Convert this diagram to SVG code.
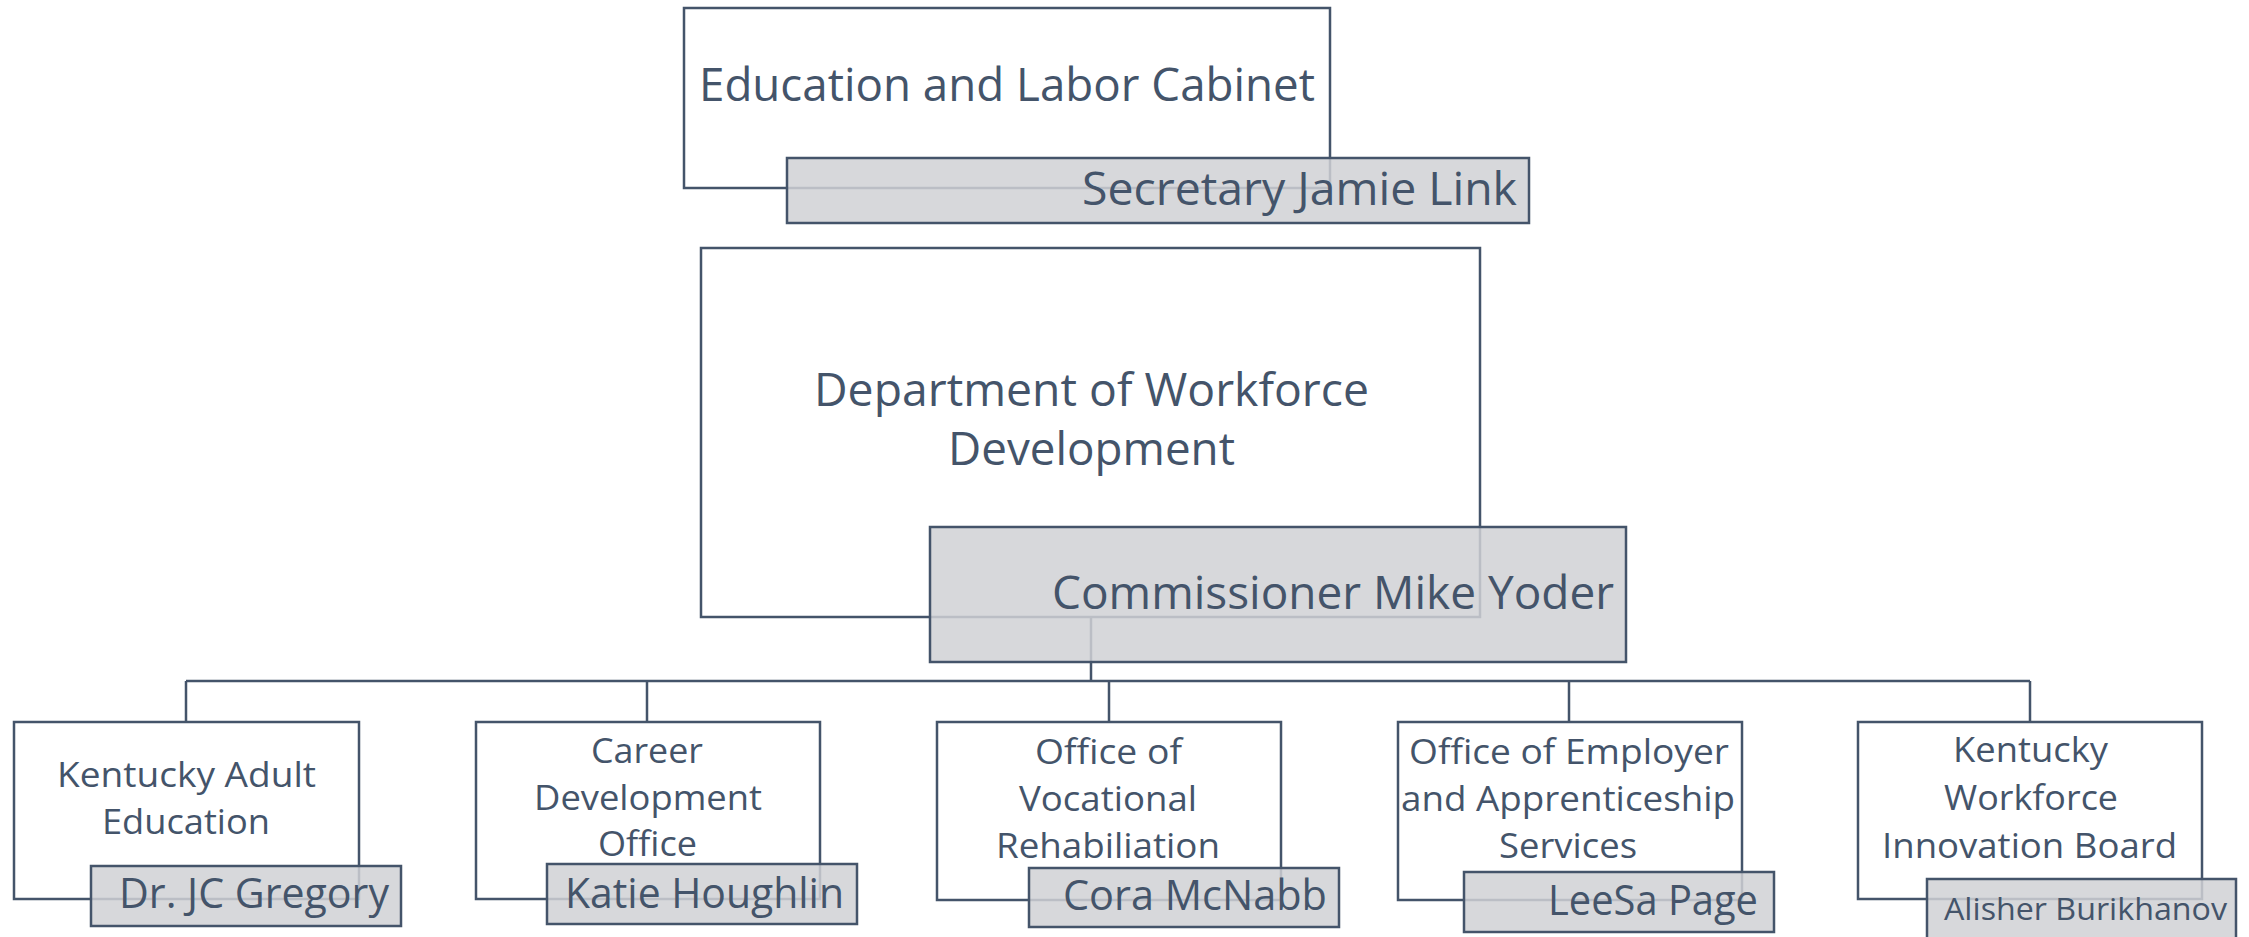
<svg xmlns="http://www.w3.org/2000/svg" width="2249" height="937" viewBox="0 0 2249 937">
<style>
.box{fill:#ffffff;stroke:#44546A;stroke-width:2.5}
.name{fill:#D0D1D5;fill-opacity:0.85;stroke:#44546A;stroke-width:2.5}
.con{fill:none;stroke:#44546A;stroke-width:2.5}
text{font-family:"Open Sans","Liberation Sans",sans-serif;fill:#44546A}
.t1{font-size:45px}
.t2{font-size:42px}
.t3{font-size:34px}
.t4{font-size:31px}
</style>
<rect width="2249" height="937" fill="#ffffff"/>
<g id="connectors">
<path class="con" d="M1091 617 V681 M186 681 H2030 M186 681 V722 M647 681 V722 M1109 681 V722 M1569 681 V722 M2030 681 V722"/>
</g>
<g id="cabinet">
<rect class="box" x="684" y="8" width="646" height="180"/>
<text class="t1" x="699" y="101" textLength="616" lengthAdjust="spacingAndGlyphs">Education and Labor Cabinet</text>
<rect class="name" x="787" y="158" width="742" height="65"/>
<text class="t1" x="1082" y="205" textLength="435" lengthAdjust="spacingAndGlyphs">Secretary Jamie Link</text>
</g>
<g id="department">
<rect class="box" x="701" y="248" width="779" height="369"/>
<text class="t1" x="814" y="406" textLength="555" lengthAdjust="spacingAndGlyphs">Department of Workforce</text>
<text class="t1" x="948" y="465" textLength="287" lengthAdjust="spacingAndGlyphs">Development</text>
<rect class="name" x="930" y="527" width="696" height="135"/>
<text class="t1" x="1052" y="609" textLength="562" lengthAdjust="spacingAndGlyphs">Commissioner Mike Yoder</text>
</g>
<g id="adult-education">
<rect class="box" x="14" y="722" width="345" height="177"/>
<text class="t3" x="57" y="787" textLength="259" lengthAdjust="spacingAndGlyphs">Kentucky Adult</text>
<text class="t3" x="102" y="834" textLength="168" lengthAdjust="spacingAndGlyphs">Education</text>
<rect class="name" x="91" y="866" width="310" height="60"/>
<text class="t2" x="119" y="908" textLength="270" lengthAdjust="spacingAndGlyphs">Dr. JC Gregory</text>
</g>
<g id="career-development">
<rect class="box" x="476" y="722" width="344" height="177"/>
<text class="t3" x="591" y="763" textLength="112" lengthAdjust="spacingAndGlyphs">Career</text>
<text class="t3" x="534" y="810" textLength="228" lengthAdjust="spacingAndGlyphs">Development</text>
<text class="t3" x="598" y="856" textLength="99" lengthAdjust="spacingAndGlyphs">Office</text>
<rect class="name" x="547" y="864" width="310" height="60"/>
<text class="t2" x="565" y="908" textLength="279" lengthAdjust="spacingAndGlyphs">Katie Houghlin</text>
</g>
<g id="vocational-rehabilitation">
<rect class="box" x="937" y="722" width="344" height="178"/>
<text class="t3" x="1035" y="764" textLength="147" lengthAdjust="spacingAndGlyphs">Office of</text>
<text class="t3" x="1019" y="811" textLength="178" lengthAdjust="spacingAndGlyphs">Vocational</text>
<text class="t3" x="996" y="858" textLength="224" lengthAdjust="spacingAndGlyphs">Rehabiliation</text>
<rect class="name" x="1029" y="868" width="310" height="59"/>
<text class="t2" x="1063" y="910" textLength="264" lengthAdjust="spacingAndGlyphs">Cora McNabb</text>
</g>
<g id="employer-apprenticeship">
<rect class="box" x="1398" y="722" width="344" height="178"/>
<text class="t3" x="1409" y="764" textLength="320" lengthAdjust="spacingAndGlyphs">Office of Employer</text>
<text class="t3" x="1401" y="811" textLength="334" lengthAdjust="spacingAndGlyphs">and Apprenticeship</text>
<text class="t3" x="1499" y="858" textLength="138" lengthAdjust="spacingAndGlyphs">Services</text>
<rect class="name" x="1464" y="872" width="310" height="60"/>
<text class="t2" x="1548" y="915" textLength="210" lengthAdjust="spacingAndGlyphs">LeeSa Page</text>
</g>
<g id="innovation-board">
<rect class="box" x="1858" y="722" width="344" height="177"/>
<text class="t3" x="1953" y="762" textLength="155" lengthAdjust="spacingAndGlyphs">Kentucky</text>
<text class="t3" x="1944" y="810" textLength="174" lengthAdjust="spacingAndGlyphs">Workforce</text>
<text class="t3" x="1882" y="858" textLength="295" lengthAdjust="spacingAndGlyphs">Innovation Board</text>
<rect class="name" x="1927" y="879" width="309" height="70"/>
<text class="t4" x="1944" y="920" textLength="283" lengthAdjust="spacingAndGlyphs">Alisher Burikhanov</text>
</g>
</svg>
